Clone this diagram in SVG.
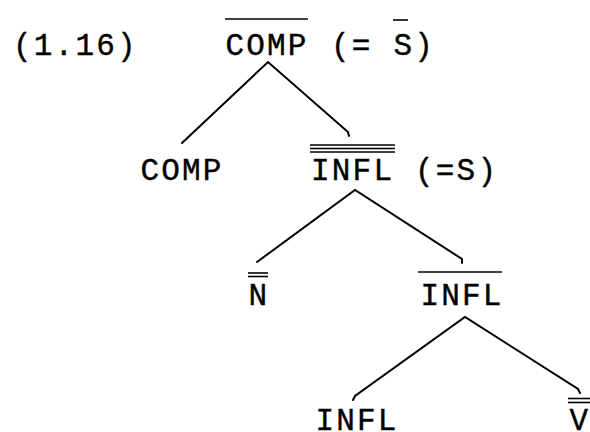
<svg xmlns="http://www.w3.org/2000/svg" width="590" height="432" viewBox="0 0 590 432">
<style>
text{font-family:"Liberation Mono","DejaVu Sans Mono",monospace;font-size:31px;letter-spacing:2.2px;fill:#000;stroke:#000;stroke-width:0.4}
.bar{stroke:#000;stroke-width:1.6;fill:none}
.edge{stroke:#000;stroke-width:2;fill:none;stroke-linecap:round}
</style>
<rect width="590" height="432" fill="#fff"/>
<text x="13" y="55">(1.16)</text>
<g id="n-compbar">
<text x="267" y="55" text-anchor="middle">COMP</text>
<line class="bar" x1="225" y1="19" x2="308" y2="19"/>
<text x="331" y="55">(= S)</text>
<line class="bar" x1="393" y1="20" x2="408" y2="20"/>
</g>
<g id="n-comp">
<text x="182" y="180" text-anchor="middle">COMP</text>
</g>
<g id="n-inflbar2">
<text x="311" y="180">INFL (=S)</text>
<line class="bar" x1="310" y1="145" x2="395" y2="145"/>
<line class="bar" x1="310" y1="148.5" x2="395" y2="148.5"/>
<line class="bar" x1="310" y1="152" x2="395" y2="152"/>
</g>
<g id="n-nbar2">
<text x="259" y="305" text-anchor="middle">N</text>
<line class="bar" x1="248" y1="273" x2="268" y2="273"/>
<line class="bar" x1="248" y1="276.5" x2="268" y2="276.5"/>
</g>
<g id="n-inflbar">
<text x="462" y="305" text-anchor="middle">INFL</text>
<line class="bar" x1="418" y1="272" x2="502" y2="272"/>
</g>
<g id="n-infl">
<text x="357" y="430" text-anchor="middle">INFL</text>
</g>
<g id="n-vbar2">
<text x="580" y="430" text-anchor="middle">V</text>
<line class="bar" x1="568" y1="398.5" x2="590" y2="398.5"/>
<line class="bar" x1="568" y1="402.5" x2="590" y2="402.5"/>
</g>
<g id="connectors">
<polyline class="edge" points="182,143 268,62 348,132 349,136"/>
<polyline class="edge" points="257,262 355,190 462,259 462,263"/>
<polyline class="edge" points="353,400 355,396 465,317 578,389 580,393"/>
</g>
</svg>
